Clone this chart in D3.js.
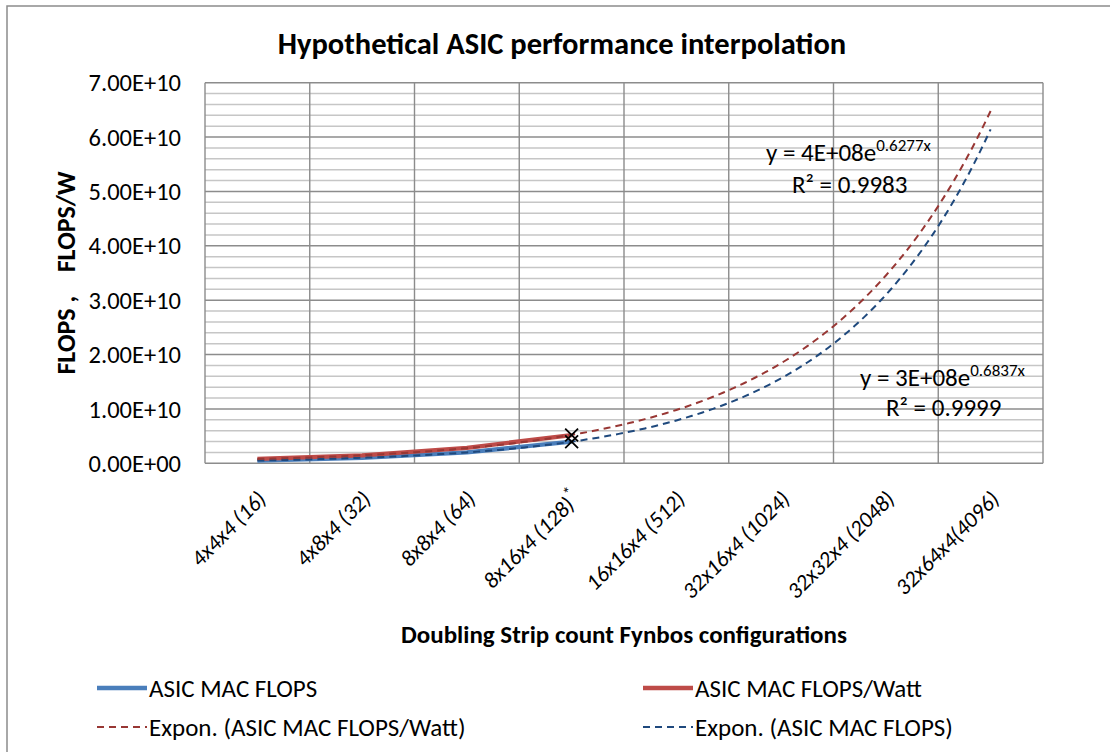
<!DOCTYPE html>
<html>
<head>
<meta charset="utf-8">
<script src="https://cdn.jsdelivr.net/npm/d3@7"></script>
<style>
  body { margin: 0; background: #fff; }
  text { font-family: Carlito, Calibri, Lato, sans-serif; fill: #000; }
</style>
</head>
<body>
<svg id="chart"></svg>
<script>
// categories along the x axis (Fynbos configurations)
const categories = [
  "4x4x4 (16)", "4x8x4 (32)", "8x8x4 (64)", "8x16x4 (128)*",
  "16x16x4 (512)", "32x16x4 (1024)", "32x32x4 (2048)", "32x64x4(4096)"
];

// measured values, only the first four configurations exist
const asicFlops = [0.51e9, 1.01e9, 2.01e9, 3.97e9];
const asicFlopsPerWatt = [0.80e9, 1.45e9, 2.85e9, 5.20e9];

const yTicks = [0, 1e10, 2e10, 3e10, 4e10, 5e10, 6e10, 7e10];

// trendline labels as Excel printed them
const trendEquations = [
  { coef: "4E+08", exp: "0.6277x", r2: "0.9983" },
  { coef: "3E+08", exp: "0.6837x", r2: "0.9999" }
];

const legendItems = [
  { label: "ASIC MAC FLOPS", key: "flops", dashed: false },
  { label: "ASIC MAC FLOPS/Watt", key: "watt", dashed: false },
  { label: "Expon. (ASIC MAC FLOPS/Watt)", key: "watt", dashed: true },
  { label: "Expon. (ASIC MAC FLOPS)", key: "flops", dashed: true }
];

const width = 1110;
const height = 752;
const plot = { left: 205, right: 1043, top: 82.7, bottom: 463.3 };

const lineColor = { flops: "#4A7EBB", watt: "#BE4B48" };
const trendColor = { flops: "#1F497D", watt: "#983734" };

const svg = d3.select("#chart")
  .attr("width", width)
  .attr("height", height)
  .attr("viewBox", [0, 0, width, height]);

// outer chart frame (runs off the right/bottom edge in the reference)
svg.append("rect")
  .attr("x", 7).attr("y", 6)
  .attr("width", width + 10).attr("height", height + 10)
  .attr("fill", "#fff")
  .attr("stroke", "#8c8c8c")
  .attr("stroke-width", 1.5);

const x = d3.scaleBand().domain(categories).range([plot.left, plot.right]);
const xIdx = d3.scaleLinear()
  .domain([1, categories.length])
  .range([x(categories[0]) + x.bandwidth() / 2, x(categories[categories.length - 1]) + x.bandwidth() / 2]);
const y = d3.scaleLinear().domain([0, d3.max(yTicks)]).range([plot.bottom, plot.top]);

const fmtE = (d) => {
  const [m, e] = d3.format(".2e")(d).split("e");
  const sign = e[0] === "-" ? "-" : "+";
  const digits = e.replace(/[+-]/, "").padStart(2, "0");
  return `${m}E${sign}${digits}`;
};

// minor gridlines every 2E+09
svg.append("g")
  .selectAll("line")
  .data(y.ticks(35).filter((d) => !yTicks.includes(d)))
  .join("line")
  .attr("x1", plot.left).attr("x2", plot.right)
  .attr("y1", (d) => y(d)).attr("y2", (d) => y(d))
  .attr("stroke", "#c6c6c6")
  .attr("stroke-width", 1.4);

// major horizontal gridlines
svg.append("g")
  .selectAll("line")
  .data(yTicks)
  .join("line")
  .attr("x1", plot.left).attr("x2", plot.right)
  .attr("y1", (d) => y(d)).attr("y2", (d) => y(d))
  .attr("stroke", "#8c8c8c")
  .attr("stroke-width", 1.4);

// vertical gridlines on category boundaries
svg.append("g")
  .selectAll("line")
  .data([...categories.map((c) => x(c)), plot.right])
  .join("line")
  .attr("x1", (d) => d).attr("x2", (d) => d)
  .attr("y1", plot.top).attr("y2", plot.bottom)
  .attr("stroke", "#8c8c8c")
  .attr("stroke-width", 1.4);

// y tick labels
svg.append("g")
  .selectAll("text")
  .data(yTicks)
  .join("text")
  .attr("x", 181)
  .attr("y", (d) => y(d))
  .attr("dy", "0.35em")
  .attr("text-anchor", "end")
  .style("font-size", "24.5px")
  .text(fmtE);

// x tick labels, rotated 45 degrees
const xl = svg.append("g")
  .selectAll("text")
  .data(categories)
  .join("text")
  .attr("transform", (d) => `translate(${x(d) + x.bandwidth() / 2 + 10},${plot.bottom + 37}) rotate(-45)`)
  .attr("text-anchor", "end")
  .style("font-size", "22.5px")
  .style("font-style", "italic");
xl.append("tspan").text((d) => d.replace("*", ""));
xl.filter((d) => d.includes("*"))
  .append("tspan")
  .attr("dy", -9)
  .style("font-size", "17px")
  .text("*");

// exponential fit like Excel: ln(y) = a + b*x, x = 1..n
const expFit = (vals) => {
  const pts = vals.map((v, i) => [i + 1, Math.log(v)]);
  const mx = d3.mean(pts, (p) => p[0]);
  const my = d3.mean(pts, (p) => p[1]);
  const b = d3.sum(pts, (p) => (p[0] - mx) * (p[1] - my)) / d3.sum(pts, (p) => (p[0] - mx) ** 2);
  const a = Math.exp(my - b * mx);
  return (t) => a * Math.exp(b * t);
};

const series = [
  { key: "flops", values: asicFlops },
  { key: "watt", values: asicFlopsPerWatt }
];

const line = d3.line().x((d) => xIdx(d[0])).y((d) => y(d[1]));

// actual data lines
svg.append("g")
  .selectAll("path")
  .data(series)
  .join("path")
  .attr("fill", "none")
  .attr("stroke", (d) => lineColor[d.key])
  .attr("stroke-width", 4.3)
  .attr("stroke-linejoin", "round")
  .attr("d", (d) => line(d.values.map((v, i) => [i + 1, v])));

// trendlines forecast across all categories
const steps = d3.range(1, categories.length + 0.001, 0.05);
svg.append("g")
  .selectAll("path")
  .data(series)
  .join("path")
  .attr("fill", "none")
  .attr("stroke", (d) => trendColor[d.key])
  .attr("stroke-width", 2)
  .attr("stroke-dasharray", "7,5")
  .attr("d", (d) => {
    const f = expFit(d.values);
    return line(steps.map((t) => [t, f(t)]));
  });

// X markers on the last measured point
svg.append("g")
  .selectAll("path")
  .data(series)
  .join("path")
  .attr("transform", (d) => `translate(${xIdx(d.values.length)},${y(d.values[d.values.length - 1])})`)
  .attr("d", d3.symbol(d3.symbolX, 110))
  .attr("fill", "none")
  .attr("stroke", "#000")
  .attr("stroke-width", 1.8);

// trendline equation labels
const eqPos = [[766, 161, 792, 193], [860, 386, 886, 416]];
trendEquations.forEach((eq, i) => {
  const [ex, ey, rx, ry] = eqPos[i];
  const t = svg.append("text").attr("x", ex).attr("y", ey).style("font-size", "25px");
  t.append("tspan").text(`y = ${eq.coef}e`);
  t.append("tspan").attr("dy", -10).style("font-size", "17px").text(eq.exp);
  svg.append("text").attr("x", rx).attr("y", ry).style("font-size", "25px").text(`R² = ${eq.r2}`);
});

// title and axis titles
svg.append("text")
  .attr("x", 562)
  .attr("y", 54)
  .attr("text-anchor", "middle")
  .style("font-size", "30.5px")
  .style("font-weight", "bold")
  .text("Hypothetical ASIC performance interpolation");

svg.append("text")
  .attr("x", (plot.left + plot.right) / 2)
  .attr("y", 643)
  .attr("text-anchor", "middle")
  .style("font-size", "25px")
  .style("font-weight", "bold")
  .text("Doubling Strip count Fynbos configurations");

svg.append("text")
  .attr("transform", `translate(75,${(plot.top + plot.bottom) / 2}) rotate(-90)`)
  .attr("text-anchor", "middle")
  .style("font-size", "26px")
  .style("font-weight", "bold")
  .style("white-space", "pre")
  .text("FLOPS ,    FLOPS/W");

// legend, two columns by two rows
const legend = svg.append("g")
  .selectAll("g")
  .data(legendItems)
  .join("g")
  .attr("transform", (d, i) => `translate(${i % 2 === 0 ? 97 : 643},${i < 2 ? 688 : 727})`);
legend.append("line")
  .attr("x1", 0).attr("x2", 50)
  .attr("stroke", (d) => (d.dashed ? trendColor[d.key] : lineColor[d.key]))
  .attr("stroke-width", (d) => (d.dashed ? 2 : 4.3))
  .attr("stroke-dasharray", (d) => (d.dashed ? "7,5" : null));
legend.append("text")
  .attr("x", 52)
  .attr("dy", "0.35em")
  .style("font-size", "25px")
  .text((d) => d.label);
</script>
</body>
</html>
